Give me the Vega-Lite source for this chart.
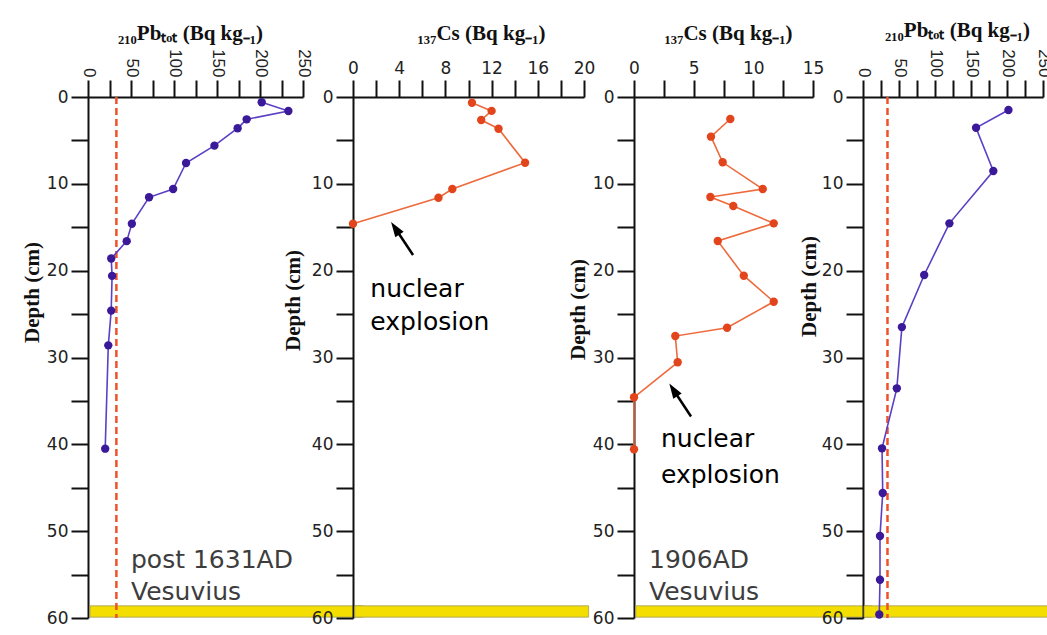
{
  "$schema": "https://vega.github.io/schema/vega-lite/v6.json",
  "background": "white",
  "padding": {"left": 21, "top": 19, "right": 0, "bottom": 0},
  "bounds": "flush",
  "spacing": 50,
  "config": {"view": {"stroke": null}},
  "resolve": {"scale": {"x": "independent", "y": "independent"}, "axis": {"x": "independent", "y": "independent"}},
  "datasets": {
    "prof": [
      {"p": 1, "d": 0.61, "x": 202}, {"p": 1, "d": 1.61, "x": 233}, {"p": 1, "d": 2.57, "x": 184.5}, {"p": 1, "d": 3.6, "x": 174},
      {"p": 1, "d": 5.6, "x": 147}, {"p": 1, "d": 7.6, "x": 114}, {"p": 1, "d": 10.6, "x": 99}, {"p": 1, "d": 11.55, "x": 71},
      {"p": 1, "d": 14.6, "x": 51}, {"p": 1, "d": 16.6, "x": 45}, {"p": 1, "d": 18.6, "x": 27}, {"p": 1, "d": 20.6, "x": 28},
      {"p": 1, "d": 24.6, "x": 27}, {"p": 1, "d": 28.6, "x": 23.6}, {"p": 1, "d": 40.5, "x": 20},
      {"p": 2, "d": 0.66, "x": 10.3}, {"p": 2, "d": 1.6, "x": 12.0}, {"p": 2, "d": 2.65, "x": 11.1}, {"p": 2, "d": 3.65, "x": 12.6},
      {"p": 2, "d": 7.57, "x": 14.9}, {"p": 2, "d": 10.6, "x": 8.6}, {"p": 2, "d": 11.6, "x": 7.4}, {"p": 2, "d": 14.6, "x": 0},
      {"p": 3, "d": 2.53, "x": 8.07}, {"p": 3, "d": 4.57, "x": 6.45}, {"p": 3, "d": 7.52, "x": 7.43}, {"p": 3, "d": 10.6, "x": 10.79},
      {"p": 3, "d": 11.52, "x": 6.4}, {"p": 3, "d": 12.55, "x": 8.32}, {"p": 3, "d": 14.55, "x": 11.71}, {"p": 3, "d": 16.58, "x": 7.02},
      {"p": 3, "d": 20.58, "x": 9.2}, {"p": 3, "d": 23.58, "x": 11.71}, {"p": 3, "d": 26.57, "x": 7.8}, {"p": 3, "d": 27.53, "x": 3.46},
      {"p": 3, "d": 30.55, "x": 3.66}, {"p": 3, "d": 34.58, "x": 0}, {"p": 3, "d": 40.57, "x": 0},
      {"p": 4, "d": 1.5, "x": 202}, {"p": 4, "d": 3.54, "x": 157}, {"p": 4, "d": 8.52, "x": 181}, {"p": 4, "d": 14.55, "x": 120},
      {"p": 4, "d": 20.5, "x": 85}, {"p": 4, "d": 26.5, "x": 54}, {"p": 4, "d": 33.55, "x": 47}, {"p": 4, "d": 40.46, "x": 26.4},
      {"p": 4, "d": 45.6, "x": 27.4}, {"p": 4, "d": 50.56, "x": 23.6}, {"p": 4, "d": 55.6, "x": 23.6}, {"p": 4, "d": 59.6, "x": 22.6}
    ],
    "refs": [
      {"p": 1, "x": 33, "d": 0, "d2": 60},
      {"p": 4, "x": 34, "d": 0, "d2": 60}
    ],
    "bands": [
      {"p": 1, "x": 2.3, "x2": 320, "d": 58.6, "d2": 59.9},
      {"p": 2, "x": 0.15, "x2": 20.4, "d": 58.6, "d2": 59.9},
      {"p": 3, "x": 0.15, "x2": 19.9, "d": 58.6, "d2": 59.9},
      {"p": 4, "x": 1.5, "x2": 275, "d": 58.6, "d2": 59.9}
    ],
    "notes": [
      {"p": 1, "x": 50, "d": 54.2, "t": "post 1631AD", "k": "date"},
      {"p": 1, "x": 50, "d": 57.9, "t": "Vesuvius", "k": "date"},
      {"p": 2, "x": 1.5, "d": 23.0, "t": "nuclear", "k": "note"},
      {"p": 2, "x": 1.5, "d": 26.8, "t": "explosion", "k": "note"},
      {"p": 3, "x": 2.26, "d": 40.3, "t": "nuclear", "k": "note"},
      {"p": 3, "x": 2.26, "d": 44.5, "t": "explosion", "k": "note"},
      {"p": 3, "x": 1.26, "d": 54.2, "t": "1906AD", "k": "date"},
      {"p": 3, "x": 1.26, "d": 57.9, "t": "Vesuvius", "k": "date"}
    ],
    "arrows": [
      {"p": 2, "o": 0, "x": 5.2, "d": 18.2}, {"p": 2, "o": 1, "x": 3.7, "d": 15.2},
      {"p": 3, "o": 0, "x": 4.78, "d": 36.8}, {"p": 3, "o": 1, "x": 3.34, "d": 33.8}
    ],
    "heads": [
      {"p": 2, "x": 3.7, "d": 15.2},
      {"p": 3, "x": 3.34, "d": 33.8}
    ]
  },
  "hconcat": [
    {
      "width": 215, "height": 521,
      "encoding": {
        "x": {"field": "x", "type": "quantitative", "scale": {"domain": [0, 250], "nice": false, "zero": false},
          "axis": {"orient": "top", "title": "₂₁₀Pbₜₒₜ (Bq kg₋₁)", "values": [0, 25, 50, 75, 100, 125, 150, 175, 200, 225, 250],
            "labelExpr": "datum.value % 50 === 0 ? datum.label : ''",
            "labelAngle": 90, "labelAlign": "right", "labelBaseline": "middle", "labelFont": "Liberation Sans", "labelFontSize": 17, "labelColor": "#222", "labelPadding": 3, "labelFlush": false, "labelOverlap": false,
            "tickSize": 17, "tickWidth": 2, "tickColor": "#111", "domainColor": "#111", "domainWidth": 2, "grid": false,
            "titleFont": "Liberation Serif", "titleFontWeight": "bold", "titleFontSize": 21, "titleColor": "#111", "titleX": 102, "titleY": -58, "titleBaseline": "alphabetic", "titleAlign": "center", "titleAngle": 0,
            "encoding": {"ticks": {"update": {"y2": {"signal": "datum.value % 50 === 0 ? -17 : -9"}}}}}},
        "y": {"field": "d", "type": "quantitative", "scale": {"domain": [0, 60], "reverse": true, "nice": false, "zero": false},
          "axis": {"orient": "left", "title": "Depth (cm)", "values": [0, 5, 10, 15, 20, 25, 30, 35, 40, 45, 50, 55, 60],
            "labelExpr": "datum.value % 10 === 0 ? datum.label : ''",
            "labelFont": "DejaVu Sans", "labelFontSize": 17, "labelColor": "#222", "labelPadding": 3, "labelFlush": false, "labelOverlap": false, "labelBaseline": "middle",
            "tickSize": 17, "tickWidth": 2, "tickColor": "#111", "domainColor": "#111", "domainWidth": 2, "grid": false,
            "titleFont": "Liberation Serif", "titleFontWeight": "bold", "titleFontSize": 21, "titleColor": "#111", "titleX": -56, "titleY": 195, "titleBaseline": "middle", "titleAlign": "center", "titleAngle": -90,
            "encoding": {"ticks": {"update": {"x2": {"signal": "datum.value % 10 === 0 ? -17 : -9"}}}}}}
      },
      "layer": [
        {"data": {"name": "bands"}, "transform": [{"filter": "datum.p === 1"}], "mark": {"type": "rect", "fill": "#f4de00", "stroke": "#a39c5a", "strokeWidth": 0.8}, "encoding": {"x2": {"field": "x2"}, "y2": {"field": "d2"}}},
        {"data": {"name": "refs"}, "transform": [{"filter": "datum.p === 1"}], "mark": {"type": "rule", "color": "#ef5228", "strokeWidth": 2.5, "strokeDash": [7, 4]}, "encoding": {"y2": {"field": "d2"}}},
        {"data": {"name": "prof"}, "transform": [{"filter": "datum.p === 1"}], "mark": {"type": "line", "color": "#5b40c6", "strokeWidth": 1.6}, "encoding": {"order": {"field": "d", "type": "quantitative"}}},
        {"data": {"name": "prof"}, "transform": [{"filter": "datum.p === 1"}], "mark": {"type": "point", "filled": true, "size": 70, "color": "#3b1a9a", "opacity": 1}, "encoding": {}},
        {"data": {"name": "notes"}, "transform": [{"filter": "datum.p === 1"}], "mark": {"type": "text", "align": "left", "baseline": "alphabetic", "font": "DejaVu Sans", "fontSize": 25},
          "encoding": {"text": {"field": "t"}, "color": {"field": "k", "type": "nominal", "scale": {"domain": ["date", "note"], "range": ["#3d3d3d", "#000000"]}, "legend": null}}}
      ]
    },
    {
      "width": 231, "height": 521,
      "encoding": {
        "x": {"field": "x", "type": "quantitative", "scale": {"domain": [0, 20], "nice": false, "zero": false},
          "axis": {"orient": "top", "title": "₁₃₇Cs (Bq kg₋₁)", "values": [0, 2, 4, 6, 8, 10, 12, 14, 16, 18, 20],
            "labelExpr": "datum.value % 4 === 0 ? datum.label : ''",
            "labelAngle": 0, "labelAlign": "center", "labelBaseline": "bottom", "labelFont": "DejaVu Sans", "labelFontSize": 17, "labelColor": "#222", "labelPadding": 3, "labelFlush": false, "labelOverlap": false,
            "tickSize": 17, "tickWidth": 2, "tickColor": "#111", "domainColor": "#111", "domainWidth": 2, "grid": false,
            "titleFont": "Liberation Serif", "titleFontWeight": "bold", "titleFontSize": 21, "titleColor": "#111", "titleX": 128, "titleY": -58, "titleBaseline": "alphabetic", "titleAlign": "center", "titleAngle": 0,
            "encoding": {"ticks": {"update": {"y2": {"signal": "datum.value % 4 === 0 ? -17 : -9"}}}}}},
        "y": {"field": "d", "type": "quantitative", "scale": {"domain": [0, 60], "reverse": true, "nice": false, "zero": false},
          "axis": {"orient": "left", "title": "Depth (cm)", "values": [0, 5, 10, 15, 20, 25, 30, 35, 40, 45, 50, 55, 60],
            "labelExpr": "datum.value % 10 === 0 ? datum.label : ''",
            "labelFont": "DejaVu Sans", "labelFontSize": 17, "labelColor": "#222", "labelPadding": 3, "labelFlush": false, "labelOverlap": false, "labelBaseline": "middle",
            "tickSize": 17, "tickWidth": 2, "tickColor": "#111", "domainColor": "#111", "domainWidth": 2, "grid": false,
            "titleFont": "Liberation Serif", "titleFontWeight": "bold", "titleFontSize": 21, "titleColor": "#111", "titleX": -60, "titleY": 203, "titleBaseline": "middle", "titleAlign": "center", "titleAngle": -90,
            "encoding": {"ticks": {"update": {"x2": {"signal": "datum.value % 10 === 0 ? -17 : -9"}}}}}}
      },
      "layer": [
        {"data": {"name": "bands"}, "transform": [{"filter": "datum.p === 2"}], "mark": {"type": "rect", "fill": "#f4de00", "stroke": "#a39c5a", "strokeWidth": 0.8}, "encoding": {"x2": {"field": "x2"}, "y2": {"field": "d2"}}},
        {"data": {"name": "prof"}, "transform": [{"filter": "datum.p === 2"}], "mark": {"type": "line", "color": "#ee6a3c", "strokeWidth": 1.6}, "encoding": {"order": {"field": "d", "type": "quantitative"}}},
        {"data": {"name": "prof"}, "transform": [{"filter": "datum.p === 2"}], "mark": {"type": "point", "filled": true, "size": 70, "color": "#e2441c", "opacity": 1}, "encoding": {}},
        {"data": {"name": "arrows"}, "transform": [{"filter": "datum.p === 2"}], "mark": {"type": "line", "color": "#000000", "strokeWidth": 2.5}, "encoding": {"order": {"field": "o", "type": "quantitative"}}},
        {"data": {"name": "heads"}, "transform": [{"filter": "datum.p === 2"}], "mark": {"type": "point", "shape": "M0,-1L0.6,0.8L-0.6,0.8Z", "filled": true, "size": 280, "color": "#000000", "opacity": 1, "angle": 326}, "encoding": {}},
        {"data": {"name": "notes"}, "transform": [{"filter": "datum.p === 2"}], "mark": {"type": "text", "align": "left", "baseline": "alphabetic", "font": "DejaVu Sans", "fontSize": 25},
          "encoding": {"text": {"field": "t"}, "color": {"field": "k", "type": "nominal", "scale": {"domain": ["date", "note"], "range": ["#3d3d3d", "#000000"]}, "legend": null}}}
      ]
    },
    {
      "width": 179, "height": 521,
      "encoding": {
        "x": {"field": "x", "type": "quantitative", "scale": {"domain": [0, 15], "nice": false, "zero": false},
          "axis": {"orient": "top", "title": "₁₃₇Cs (Bq kg₋₁)", "values": [0, 2.5, 5, 7.5, 10, 12.5, 15],
            "labelExpr": "datum.value % 5 === 0 ? datum.label : ''",
            "labelAngle": 0, "labelAlign": "center", "labelBaseline": "bottom", "labelFont": "DejaVu Sans", "labelFontSize": 17, "labelColor": "#222", "labelPadding": 3, "labelFlush": false, "labelOverlap": false,
            "tickSize": 17, "tickWidth": 2, "tickColor": "#111", "domainColor": "#111", "domainWidth": 2, "grid": false,
            "titleFont": "Liberation Serif", "titleFontWeight": "bold", "titleFontSize": 21, "titleColor": "#111", "titleX": 94, "titleY": -58, "titleBaseline": "alphabetic", "titleAlign": "center", "titleAngle": 0,
            "encoding": {"ticks": {"update": {"y2": {"signal": "datum.value % 5 === 0 ? -17 : -9"}}}}}},
        "y": {"field": "d", "type": "quantitative", "scale": {"domain": [0, 60], "reverse": true, "nice": false, "zero": false},
          "axis": {"orient": "left", "title": "Depth (cm)", "values": [0, 5, 10, 15, 20, 25, 30, 35, 40, 45, 50, 55, 60],
            "labelExpr": "datum.value % 10 === 0 ? datum.label : ''",
            "labelFont": "DejaVu Sans", "labelFontSize": 17, "labelColor": "#222", "labelPadding": 3, "labelFlush": false, "labelOverlap": false, "labelBaseline": "middle",
            "tickSize": 17, "tickWidth": 2, "tickColor": "#111", "domainColor": "#111", "domainWidth": 2, "grid": false,
            "titleFont": "Liberation Serif", "titleFontWeight": "bold", "titleFontSize": 21, "titleColor": "#111", "titleX": -56, "titleY": 212, "titleBaseline": "middle", "titleAlign": "center", "titleAngle": -90,
            "encoding": {"ticks": {"update": {"x2": {"signal": "datum.value % 10 === 0 ? -17 : -9"}}}}}}
      },
      "layer": [
        {"data": {"name": "bands"}, "transform": [{"filter": "datum.p === 3"}], "mark": {"type": "rect", "fill": "#f4de00", "stroke": "#a39c5a", "strokeWidth": 0.8}, "encoding": {"x2": {"field": "x2"}, "y2": {"field": "d2"}}},
        {"data": {"name": "prof"}, "transform": [{"filter": "datum.p === 3"}], "mark": {"type": "line", "color": "#ee6a3c", "strokeWidth": 1.6}, "encoding": {"order": {"field": "d", "type": "quantitative"}}},
        {"data": {"name": "prof"}, "transform": [{"filter": "datum.p === 3"}], "mark": {"type": "point", "filled": true, "size": 70, "color": "#e2441c", "opacity": 1}, "encoding": {}},
        {"data": {"name": "arrows"}, "transform": [{"filter": "datum.p === 3"}], "mark": {"type": "line", "color": "#000000", "strokeWidth": 2.5}, "encoding": {"order": {"field": "o", "type": "quantitative"}}},
        {"data": {"name": "heads"}, "transform": [{"filter": "datum.p === 3"}], "mark": {"type": "point", "shape": "M0,-1L0.6,0.8L-0.6,0.8Z", "filled": true, "size": 280, "color": "#000000", "opacity": 1, "angle": 327}, "encoding": {}},
        {"data": {"name": "notes"}, "transform": [{"filter": "datum.p === 3"}], "mark": {"type": "text", "align": "left", "baseline": "alphabetic", "font": "DejaVu Sans", "fontSize": 25},
          "encoding": {"text": {"field": "t"}, "color": {"field": "k", "type": "nominal", "scale": {"domain": ["date", "note"], "range": ["#3d3d3d", "#000000"]}, "legend": null}}}
      ]
    },
    {
      "width": 180, "height": 521,
      "encoding": {
        "x": {"field": "x", "type": "quantitative", "scale": {"domain": [0, 250], "nice": false, "zero": false},
          "axis": {"orient": "top", "title": "₂₁₀Pbₜₒₜ (Bq kg₋₁)", "values": [0, 25, 50, 75, 100, 125, 150, 175, 200, 225, 250],
            "labelExpr": "datum.value % 50 === 0 ? datum.label : ''",
            "labelAngle": 90, "labelAlign": "right", "labelBaseline": "middle", "labelFont": "Liberation Sans", "labelFontSize": 17, "labelColor": "#222", "labelPadding": 3, "labelFlush": false, "labelOverlap": false,
            "tickSize": 17, "tickWidth": 2, "tickColor": "#111", "domainColor": "#111", "domainWidth": 2, "grid": false,
            "titleFont": "Liberation Serif", "titleFontWeight": "bold", "titleFontSize": 21, "titleColor": "#111", "titleX": 94, "titleY": -61, "titleBaseline": "alphabetic", "titleAlign": "center", "titleAngle": 0,
            "encoding": {"ticks": {"update": {"y2": {"signal": "datum.value % 50 === 0 ? -17 : -9"}}}}}},
        "y": {"field": "d", "type": "quantitative", "scale": {"domain": [0, 60], "reverse": true, "nice": false, "zero": false},
          "axis": {"orient": "left", "title": "Depth (cm)", "values": [0, 5, 10, 15, 20, 25, 30, 35, 40, 45, 50, 55, 60],
            "labelExpr": "datum.value % 10 === 0 ? datum.label : ''",
            "labelFont": "DejaVu Sans", "labelFontSize": 17, "labelColor": "#222", "labelPadding": 3, "labelFlush": false, "labelOverlap": false, "labelBaseline": "middle",
            "tickSize": 17, "tickWidth": 2, "tickColor": "#111", "domainColor": "#111", "domainWidth": 2, "grid": false,
            "titleFont": "Liberation Serif", "titleFontWeight": "bold", "titleFontSize": 21, "titleColor": "#111", "titleX": -54, "titleY": 189, "titleBaseline": "middle", "titleAlign": "center", "titleAngle": -90,
            "encoding": {"ticks": {"update": {"x2": {"signal": "datum.value % 10 === 0 ? -17 : -9"}}}}}}
      },
      "layer": [
        {"data": {"name": "bands"}, "transform": [{"filter": "datum.p === 4"}], "mark": {"type": "rect", "fill": "#f4de00", "stroke": "#a39c5a", "strokeWidth": 0.8}, "encoding": {"x2": {"field": "x2"}, "y2": {"field": "d2"}}},
        {"data": {"name": "refs"}, "transform": [{"filter": "datum.p === 4"}], "mark": {"type": "rule", "color": "#ef5228", "strokeWidth": 2.5, "strokeDash": [7, 4]}, "encoding": {"y2": {"field": "d2"}}},
        {"data": {"name": "prof"}, "transform": [{"filter": "datum.p === 4"}], "mark": {"type": "line", "color": "#5b40c6", "strokeWidth": 1.6}, "encoding": {"order": {"field": "d", "type": "quantitative"}}},
        {"data": {"name": "prof"}, "transform": [{"filter": "datum.p === 4"}], "mark": {"type": "point", "filled": true, "size": 70, "color": "#3b1a9a", "opacity": 1}, "encoding": {}}
      ]
    }
  ]
}
